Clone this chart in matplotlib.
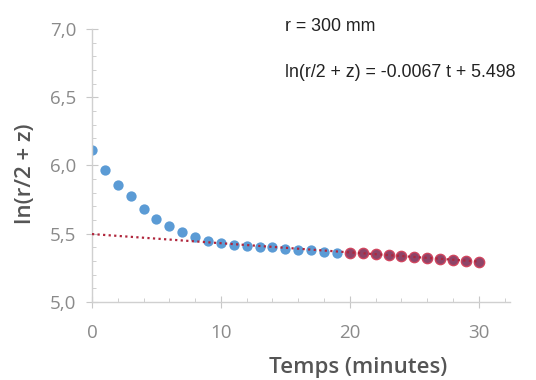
import matplotlib.pyplot as plt
import numpy as np
from matplotlib.ticker import MultipleLocator, FuncFormatter

# Données
t_all = np.arange(0, 20)
ln_all = [6.11, 5.97, 5.86, 5.78, 5.68, 5.61, 5.56, 5.515, 5.48, 5.45,
          5.43, 5.42, 5.41, 5.405, 5.40, 5.39, 5.385, 5.38, 5.37, 5.36]
t_fit = np.arange(20, 31)
ln_fit = [5.362, 5.357, 5.350, 5.344, 5.337, 5.330, 5.324, 5.317, 5.310, 5.303, 5.297]

slope = -0.0067
intercept = 5.498
t_line = np.array([0, 30])

fig = plt.figure(figsize=(5.36, 3.8), dpi=100)
ax = fig.add_axes([0.1716, 0.205, 0.7794, 0.719])

ax.scatter(t_all, ln_all, s=55, color='#5b9bd5', zorder=2, linewidths=0)
ax.scatter(t_fit, ln_fit, s=55, color='#8e4468', edgecolors='#d0455e',
           linewidths=1.0, zorder=3)
ax.plot(t_line, slope * t_line + intercept, color='#b0263c', ls=(0, (1, 1.5)),
        lw=1.6, zorder=4)

ax.set_xlim(0, 32.4)
ax.set_ylim(5.0, 7.0)
ax.xaxis.set_major_locator(MultipleLocator(10))
ax.xaxis.set_minor_locator(MultipleLocator(2))
ax.yaxis.set_major_locator(MultipleLocator(0.5))
ax.yaxis.set_minor_locator(MultipleLocator(0.1))
ax.yaxis.set_major_formatter(FuncFormatter(lambda v, p: f'{v:.1f}'.replace('.', ',')))

for side in ['top', 'right']:
    ax.spines[side].set_visible(False)
for side in ['left', 'bottom']:
    ax.spines[side].set_color('#d0d0d0')
    ax.spines[side].set_linewidth(1.0)

ax.tick_params(which='major', direction='inout', length=9, color='#c8c8c8',
               labelcolor='#8a8a8a', labelsize=13.5)
ax.tick_params(axis='x', which='major', pad=11)
ax.tick_params(axis='y', which='major', pad=7)
ax.tick_params(which='minor', direction='in', length=3, color='#c8c8c8')
for lab in ax.get_xticklabels() + ax.get_yticklabels():
    lab.set_family('Open Sans')

ax.set_xlabel('Temps (minutes)', family='Open Sans', weight='semibold',
              fontsize=16, color='#555555')
ax.set_ylabel('ln(r/2 + z)', family='Open Sans', weight='semibold',
              fontsize=16, color='#555555')
ax.xaxis.set_label_coords(0.636, -0.2)
ax.yaxis.set_label_coords(-0.135, 0.47)

txt_font = ['Liberation Sans', 'DejaVu Sans']
fig.text(0.532, 0.93, 'r = 300 mm', family=txt_font, fontsize=12.8,
         color='#222222', va='center')
fig.text(0.532, 0.81, 'ln(r/2 + z) = -0.0067 t + 5.498', family=txt_font,
         fontsize=12.8, color='#222222', va='center')

plt.savefig('out.png', dpi=100)
